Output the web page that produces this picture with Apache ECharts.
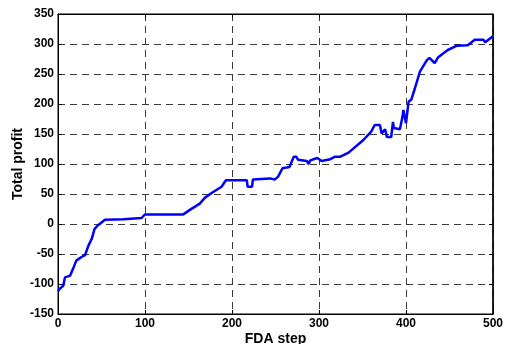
<!DOCTYPE html>
<html>
<head>
<meta charset="utf-8">
<script src="https://cdn.jsdelivr.net/npm/echarts@6/dist/echarts.min.js"></script>
<style>
html,body{margin:0;padding:0;background:#fff;}
#c{width:505px;height:344px;}
</style>
</head>
<body>
<div id="c"></div>
<script>
var steps = [0,2,6,8,14,18,21,27,31,35,39,42,46,54,75,77,96,100,144,152,163,169,177,188,190,193,217,218,220,223,224,244,249,253,258,266,271,274,276,286,288,290,292,298,303,313,318,324,334,336,351,360,364,370,372,376,378,383,385,386,393,396,397,400,403,406,410,416,424,427,433,437,448,458,471,479,489,491,500];
var profit = [-112,-108,-103,-89,-86,-72,-61,-55,-52,-36,-24,-8,-2,7,8,10,10,16,16,24,34,44,52,62,63,73,73,62,61,62,74,76,74,79,93,95,112,112,107,105,100,106,108,110,105,108,112,112,119,120,140,154,165,165,151,158,145,145,170,160,158,179,190,168,204,207,225,254,273,277,268,278,290,297,298,307,307,303,313];
var xTicks = [0,100,200,300,400,500];
var yTicks = [-150,-100,-50,0,50,100,150,200,250,300,350];

var data = steps.map(function(s,i){return [s, profit[i]];});
var font = 'Liberation Sans, Arial, Helvetica, sans-serif';
var chart = echarts.init(document.getElementById('c'));
var dashed = {show:true, lineStyle:{color:'#3a3a3a', width:1, type:[7,5]}};
chart.setOption({
  animation:false,
  grid:{left:58, right:12, top:14, bottom:30, containLabel:false, outerBoundsMode:'none', show:true, borderColor:'#000', borderWidth:1, backgroundColor:'transparent'},
  xAxis:[{
    type:'value', min:xTicks[0], max:xTicks[xTicks.length-1], interval:100,
    name:'FDA step', nameLocation:'middle', nameGap:18, nameMoveOverlap:false,
    nameTextStyle:{fontFamily:font, fontWeight:'bold', fontSize:14, color:'#000'},
    axisLine:{show:true, onZero:false, lineStyle:{color:'#000', width:1}},
    axisTick:{show:true, inside:true, length:4, lineStyle:{color:'#000'}},
    axisLabel:{fontFamily:font, fontWeight:'bold', fontSize:12, color:'#000', margin:4},
    splitLine:dashed
  },{
    type:'value', position:'top', min:0, max:500, interval:100,
    axisLine:{show:true, onZero:false, lineStyle:{color:'#000', width:1}},
    axisTick:{show:true, inside:true, length:4, lineStyle:{color:'#000'}},
    axisLabel:{show:false}, splitLine:{show:false}
  }],
  yAxis:[{
    type:'value', min:yTicks[0], max:yTicks[yTicks.length-1], interval:50,
    name:'Total profit', nameLocation:'middle', nameGap:33, nameMoveOverlap:false,
    nameTextStyle:{fontFamily:font, fontWeight:'bold', fontSize:14, color:'#000'},
    axisLine:{show:true, onZero:false, lineStyle:{color:'#000', width:1}},
    axisTick:{show:true, inside:true, length:4, lineStyle:{color:'#000'}},
    axisLabel:{fontFamily:font, fontWeight:'bold', fontSize:12, color:'#000', margin:4},
    splitLine:dashed
  },{
    type:'value', position:'right', min:-150, max:350, interval:50,
    axisLine:{show:true, onZero:false, lineStyle:{color:'#000', width:1.5}},
    axisTick:{show:true, inside:true, length:4, lineStyle:{color:'#000'}},
    axisLabel:{show:false}, splitLine:{show:false}
  }],
  series:[{
    type:'line', data:data, xAxisIndex:0, yAxisIndex:0,
    showSymbol:false, symbol:'none',
    lineStyle:{color:'#0000ff', width:2.5},
    z:5
  }]
});
</script>
</body>
</html>
